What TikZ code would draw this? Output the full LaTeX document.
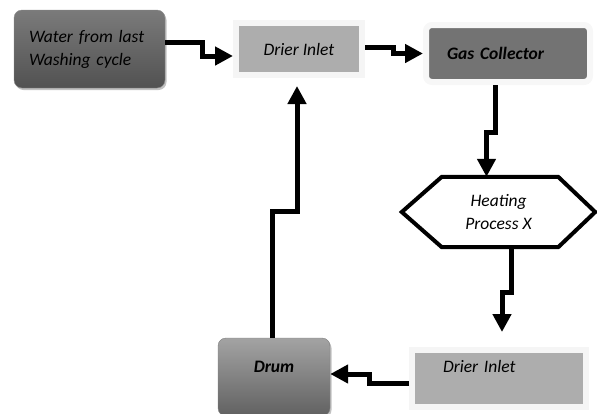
\documentclass[tikz,border=0pt]{standalone}
\usepackage{fontspec}
\setmainfont{Carlito}
\usetikzlibrary{arrows.meta,shadows,calc}
\begin{document}
\begin{tikzpicture}[x=1pt,y=-1pt,
  lbl/.style={font=\fontsize{17.5}{23}\selectfont\itshape, align=center},
  flow/.style={line width=5pt, -{Triangle[length=18pt,width=18pt]}, line join=miter},
  shd/.style={drop shadow={shadow xshift=1.5pt, shadow yshift=-2pt, fill=black!40, opacity=0.6}},
  dark/.style={rounded corners=8pt, top color=black!52, bottom color=black!68, draw=black!45, shd},
  framed/.style={draw=black!4, line width=6pt, fill=black!32, shd},
  gcbox/.style={draw=black!3, line width=6pt, fill=black!55, rounded corners=6pt, shd},
  drumbox/.style={rounded corners=8pt, top color=black!36, bottom color=black!62, draw=black!50, shd},
]
\useasboundingbox (0,0) rectangle (597,413);
\clip (0,0) rectangle (597,413);

\node[dark, minimum width=151pt, minimum height=78pt, lbl, text width=121pt, align=left] (w) at (89.5,49) {Water from last\\Washing cycle};
\node[framed, minimum width=126pt, minimum height=52pt, lbl] (di1) at (299,49) {Drier Inlet};
\node[gcbox, minimum width=164pt, minimum height=57pt, lbl, text width=122pt, align=left] (gc) at (508,53.5) {\bfseries Gas Collector};
\node[lbl, minimum width=193pt, minimum height=70pt] (hx) at (498.5,212) {Heating\\Process X};
\draw[line width=4pt, line join=miter] (hx.west) -- ([xshift=40pt]hx.north west) -- ([xshift=-37pt]hx.north east) -- (hx.east) -- ([xshift=-37pt]hx.south east) -- ([xshift=40pt]hx.south west) -- cycle;
\node[framed, minimum width=174pt, minimum height=57pt, lbl, text width=112pt, align=left, text depth=24pt] (di2) at (499,378.5) {Drier Inlet};
\node[drumbox, minimum width=112pt, minimum height=78pt, lbl, text depth=20pt] (dr) at (274,377) {\bfseries Drum};

\draw[flow] ([yshift=7pt]w.east) -- ++(37,0) |- ([yshift=-7pt]di1.west);
\draw[flow] ([yshift=2pt]di1.east) -- ++(28,0) |- (gc.west);
\draw[flow] ([xshift=-13pt]gc.south) -- ++(0,47) -| ([xshift=-12pt]hx.north);
\draw[flow] ([xshift=13pt]hx.south) -- ++(0,45) -| ([xshift=3pt,yshift=15pt]di2.north);
\draw[flow] ([yshift=-4.5pt]di2.west) -- ++(-40,0) |- ([yshift=3pt]dr.east);
\draw[flow] ([xshift=-2pt]dr.north) -- ++(0,-126) -| ([xshift=-2pt,yshift=-8pt]di1.south);
\end{tikzpicture}
\end{document}
